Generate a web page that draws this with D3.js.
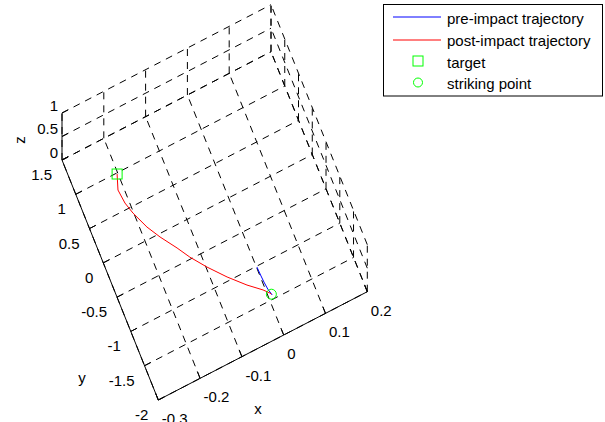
<!DOCTYPE html>
<html>
<head>
<meta charset="utf-8">
<script src="https://cdn.jsdelivr.net/npm/d3@7"></script>
<style>
  body { margin: 0; background: #fff; }
  svg text { font-family: "Liberation Sans", Arial, sans-serif; font-size: 15px; fill: #000; }
</style>
</head>
<body>
<svg id="chart" width="605" height="422"></svg>
<script>
// axis ticks
var xTicks = [-0.3, -0.2, -0.1, 0, 0.1, 0.2];
var yTicks = [-2, -1.5, -1, -0.5, 0, 0.5, 1, 1.5];
var zTicks = [0, 0.5, 1];

// pre-impact trajectory (blue)
var preX = [0.001, 0.002, 0.003, 0.005, 0.009];
var preY = [-1.012, -1.146, -1.237, -1.346, -1.444];
var preZ = [0, 0, 0, 0, 0];

// post-impact trajectory (red), from striking point to target
var postX = [0.008, 0.006, -0.005, -0.033, -0.066, -0.098, -0.124, -0.142, -0.167, -0.185, -0.2016, -0.2095, -0.213, -0.202];
var postY = [-1.43, -1.407, -1.327, -1.167, -0.945, -0.699, -0.472, -0.282, -0.043, 0.159, 0.415, 0.586, 0.787, 0.986];
var postZ = [0, 0, 0, 0, 0, 0, 0, 0, 0, 0, 0, 0, 0, 0];

var target = [-0.202, 0.986, 0];
var strike = [0.008, -1.43, 0];

var svg = d3.select("#chart");

// 3d -> screen, corner (x=-0.3,y=-2,z=0) is the origin
var O = [158.3, 400];
var EX = [209, -108.3];   // full x range
var EY = [-96.3, -240];   // full y range
var EZ = [0, -47];        // full z range

var xs = d3.scaleLinear().domain([-0.3, 0.2]).range([0, 1]);
var ys = d3.scaleLinear().domain([-2, 1.5]).range([0, 1]);
var zs = d3.scaleLinear().domain([0, 1]).range([0, 1]);

function proj(x, y, z) {
  var a = xs(x), b = ys(y), c = zs(z);
  return [O[0] + a * EX[0] + b * EY[0] + c * EZ[0],
          O[1] + a * EX[1] + b * EY[1] + c * EZ[1]];
}

var line = d3.line();
var grid = svg.append("g")
  .attr("fill", "none")
  .attr("stroke", "#000")
  .attr("stroke-width", 1)
  .attr("stroke-dasharray", "7,6");

function seg(g, p, q) {
  g.append("path").attr("d", line([proj(p[0], p[1], p[2]), proj(q[0], q[1], q[2])]));
}

// floor z=0
yTicks.forEach(function (y) { seg(grid, [-0.3, y, 0], [0.2, y, 0]); });
xTicks.forEach(function (x) { seg(grid, [x, -2, 0], [x, 1.5, 0]); });
// back wall y=1.5
zTicks.forEach(function (z) { seg(grid, [-0.3, 1.5, z], [0.2, 1.5, z]); });
xTicks.forEach(function (x) { seg(grid, [x, 1.5, 0], [x, 1.5, 1]); });
// side wall x=0.2
zTicks.forEach(function (z) { seg(grid, [0.2, -2, z], [0.2, 1.5, z]); });
yTicks.forEach(function (y) { seg(grid, [0.2, y, 0], [0.2, y, 1]); });

// axes
var ax = svg.append("g").attr("fill", "none").attr("stroke", "#000").attr("stroke-width", 1);
seg(ax, [-0.3, -2, 0], [0.2, -2, 0]);
seg(ax, [-0.3, -2, 0], [-0.3, 1.5, 0]);
seg(ax, [-0.3, 1.5, 0], [-0.3, 1.5, 1]);

xTicks.forEach(function (x) { seg(ax, [x, -2, 0], [x, -1.9, 0]); });
yTicks.forEach(function (y) { seg(ax, [-0.3, y, 0], [-0.285, y, 0]); });
zTicks.forEach(function (z) { seg(ax, [-0.3, 1.5, z], [-0.285, 1.5, z]); });

// tick labels
xTicks.forEach(function (x) {
  var p = proj(x, -2, 0);
  svg.append("text").attr("x", p[0] + 3.5).attr("y", p[1] + 18.5)
    .attr("dominant-baseline", "central").text(x);
});
yTicks.forEach(function (y) {
  var p = proj(-0.3, y, 0);
  svg.append("text").attr("x", p[0] - 10).attr("y", p[1] + 14.5)
    .attr("text-anchor", "end").attr("dominant-baseline", "central").text(y);
});
zTicks.forEach(function (z) {
  var p = proj(-0.3, 1.5, z);
  svg.append("text").attr("x", p[0] - 4).attr("y", p[1] - 8)
    .attr("text-anchor", "end").attr("dominant-baseline", "central").text(z);
});

// axis titles
svg.append("text").attr("x", 258).attr("y", 408).attr("text-anchor", "middle")
  .attr("dominant-baseline", "central").text("x");
svg.append("text").attr("x", 82).attr("y", 377).attr("text-anchor", "middle")
  .attr("dominant-baseline", "central").text("y");
svg.append("text").attr("transform", "translate(19,140) rotate(-90)")
  .attr("text-anchor", "middle").attr("dominant-baseline", "central").text("z");

// data
var prePts = preX.map(function (d, i) { return proj(d, preY[i], preZ[i]); });
var postPts = postX.map(function (d, i) { return proj(d, postY[i], postZ[i]); });

svg.append("path").attr("d", line(prePts)).attr("fill", "none").attr("stroke", "#0000ff").attr("stroke-width", 1);
svg.append("path").attr("d", line(postPts)).attr("fill", "none").attr("stroke", "#ff0000").attr("stroke-width", 1);

var tp = proj(target[0], target[1], target[2]);
svg.append("rect").attr("x", tp[0] - 5).attr("y", tp[1] - 5).attr("width", 10).attr("height", 10)
  .attr("fill", "none").attr("stroke", "#00ff00").attr("stroke-width", 1);
var sp = proj(strike[0], strike[1], strike[2]);
svg.append("circle").attr("cx", sp[0]).attr("cy", sp[1]).attr("r", 5)
  .attr("fill", "none").attr("stroke", "#00ff00").attr("stroke-width", 1);

// legend
var lg = svg.append("g");
lg.append("rect").attr("x", 383.5).attr("y", 4.5).attr("width", 219).attr("height", 91.5)
  .attr("fill", "#fff").attr("stroke", "#000").attr("stroke-width", 1);
var labels = ["pre-impact trajectory", "post-impact trajectory", "target", "striking point"];
var rowY = [17.5, 39.5, 61, 82.5];
lg.append("path").attr("d", line([[393, 17], [441, 17]]))
  .style("stroke", "#0000ff").style("fill", "none").style("stroke-width", 1);
lg.append("path").attr("d", line([[393, 40], [441, 40]]))
  .style("stroke", "#ff0000").style("fill", "none").style("stroke-width", 1);
lg.append("rect").attr("x", 413).attr("y", rowY[2] - 5).attr("width", 10).attr("height", 10)
  .attr("fill", "none").attr("stroke", "#00ff00");
lg.append("circle").attr("cx", 418).attr("cy", rowY[3]).attr("r", 4.5)
  .attr("fill", "none").attr("stroke", "#00ff00");
labels.forEach(function (t, i) {
  lg.append("text").attr("x", 447).attr("y", rowY[i] + 1)
    .attr("dominant-baseline", "central").text(t);
});
</script>
</body>
</html>
